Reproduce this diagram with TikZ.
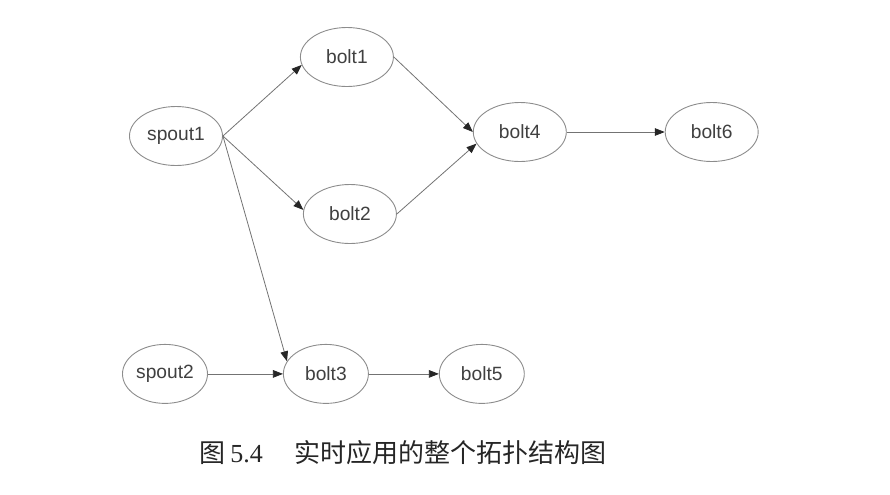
\documentclass[tikz,border=0pt]{standalone}
\usepackage{fontspec}
\setmainfont{Liberation Sans}
\newfontfamily\cjk{Noto Sans CJK SC}
\newfontfamily\capnum{Liberation Serif}
\usepackage{tikz}
\usetikzlibrary{arrows.meta,positioning,shapes.geometric}
\tikzset{%
  % classes
  comp/.style={draw=black!45, ellipse, line width=0.45pt, inner sep=0pt,
    minimum width=46.5pt, minimum height=29.5pt, text=black!75, font=\fontsize{9.6}{11}\selectfont},
  narrow/.style={comp, minimum width=42.5pt},
  % edge styles
  rel/.style={-{Triangle[length=5pt,width=3.8pt,color=black!85]}, draw=black!55, line width=0.4pt},
}
\begin{document}
\begin{tikzpicture}
  \useasboundingbox (-88pt,68pt) rectangle (357pt,-179pt);
  % Upper row
  \node[comp] (spout1) {spout1};
  \node[comp, right=38.5pt of spout1, yshift=39.5pt] (bolt1) {bolt1};
  \node[comp, right=40pt of spout1, yshift=-39pt] (bolt2) {bolt2};
  \node[comp, right=39.5pt of bolt1, yshift=-37.5pt] (bolt4) {bolt4};
  \node[comp, right=49pt of bolt4] (bolt6) {bolt6};

  % Lower row
  \node[narrow, below=89pt of spout1, xshift=-5.5pt] (spout2) {spout2};
  \node[narrow, right=37.5pt of spout2] (bolt3) {bolt3};
  \node[narrow, right=35pt of bolt3] (bolt5) {bolt5};

  % Streams
  \draw[rel] (spout1.east) -- (bolt1.190);
  \draw[rel] (spout1.east) -- (bolt2.175);
  \draw[rel] (spout1.east) -- (bolt3.162);
  \draw[rel] (bolt1.east) -- (bolt4.180);
  \draw[rel] (bolt2.east) -- (bolt4.195);
  \draw[rel] (bolt4) -- (bolt6);
  \draw[rel] (spout2) -- (bolt3);
  \draw[rel] (bolt3) -- (bolt5);

  % Caption
  \node[font=\fontsize{13}{15}\selectfont, text=black!85] (caption) at (113.5pt,-158.5pt)
    {{\cjk 图}\,{\capnum 5.4}\hspace{1.2em}{\cjk 实时应用的整个拓扑结构图}};
\end{tikzpicture}
\end{document}
